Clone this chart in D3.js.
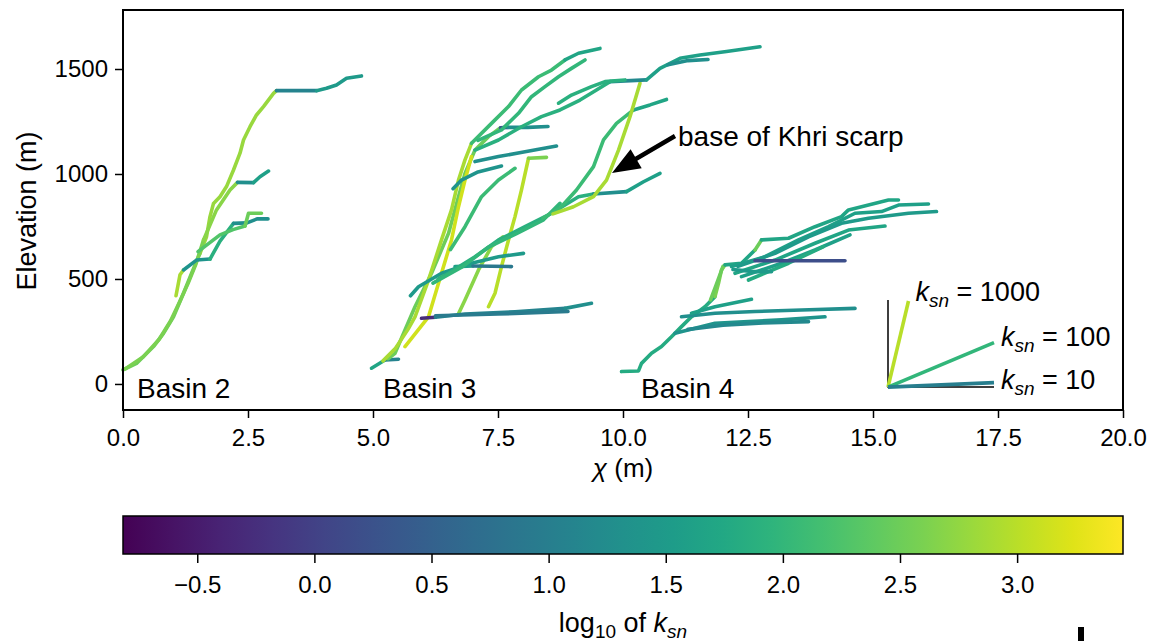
<!DOCTYPE html>
<html>
<head>
<meta charset="utf-8">
<script src="https://cdn.jsdelivr.net/npm/d3@7"></script>
<style>
body { margin: 0; background: #fff; }
text { font-family: "Liberation Sans", Arial, Helvetica, sans-serif; fill: #000; }
</style>
</head>
<body>
<div id="chart"></div>
<script>
// channel segments: k = log10(ksn) colour, pts = [chi (m), elevation (m)]
var basin2 = [
    {k: 2.5, pts: [[0, 67], [0.27, 98], [0.61, 178], [0.81, 241], [1.01, 320], [1.21, 432], [1.37, 527], [1.54, 622]]},
    {k: 2.8, pts: [[1.54, 622], [1.67, 701], [1.74, 797], [1.81, 860], [1.94, 892], [2.07, 940], [2.21, 1019], [2.34, 1099], [2.41, 1162], [2.54, 1225], [2.67, 1281], [2.81, 1321], [3.01, 1384], [3.07, 1397]]},
    {k: 1.1, pts: [[3.07, 1397], [3.87, 1397]]},
    {k: 1.5, pts: [[3.87, 1397], [4.07, 1408], [4.27, 1424], [4.47, 1456], [4.77, 1467]]},
    {k: 2.6, pts: [[0.05, 72], [0.4, 128], [0.72, 212], [0.95, 300], [1.14, 395], [1.3, 478], [1.45, 566], [1.61, 686]]},
    {k: 2.7, pts: [[1.61, 686], [1.87, 829], [2.14, 924], [2.29, 960]]},
    {k: 1.3, pts: [[2.29, 960], [2.61, 959]]},
    {k: 1.6, pts: [[2.61, 959], [2.74, 987], [2.91, 1014]]},
    {k: 2.9, pts: [[1.06, 420], [1.1, 470], [1.14, 520], [1.21, 543]]},
    {k: 1.4, pts: [[1.21, 543], [1.47, 590], [1.74, 595]]},
    {k: 1.9, pts: [[1.74, 595], [1.94, 680], [2.21, 765]]},
    {k: 1.3, pts: [[2.21, 765], [2.48, 767], [2.68, 786], [2.9, 786]]},
    {k: 2.3, pts: [[1.5, 630], [1.94, 710], [2.2, 735], [2.44, 752]]},
    {k: 2.5, pts: [[2.44, 752], [2.51, 813], [2.77, 813]]}
];

var basin3 = [
    {k: 1.7, pts: [[4.97, 75], [5.24, 114]]},
    {k: 1.1, pts: [[5.24, 114], [5.51, 118]]},
    {k: 2.5, pts: [[5.3, 120], [5.44, 146], [5.84, 368], [6.17, 527], [6.51, 717], [6.71, 892], [6.84, 1003], [7.04, 1114], [7.31, 1178], [7.55, 1220]]},
    {k: 2.9, pts: [[5.2, 110], [5.45, 170], [5.7, 260], [5.84, 320], [6.11, 495], [6.37, 686], [6.57, 829], [6.71, 971], [6.84, 1067], [6.97, 1146]]},
    {k: 3.15, pts: [[5.64, 178], [6.11, 320], [6.37, 527], [6.57, 686], [6.71, 844], [6.84, 971], [6.97, 1083]]},
    {k: 0.3, pts: [[7.55, 1220], [7.7, 1222]]},
    {k: 1.3, pts: [[7.7, 1222], [8.1, 1222], [8.5, 1226]]},
    {k: 2.1, pts: [[6.97, 1146], [7.37, 1241], [7.71, 1321], [7.97, 1400], [8.31, 1463], [8.57, 1495], [8.84, 1543]]},
    {k: 1.7, pts: [[8.84, 1543], [9.11, 1575], [9.54, 1598]]},
    {k: 2.0, pts: [[7.1, 1160], [7.57, 1210], [7.91, 1289], [8.17, 1368], [8.44, 1416], [8.71, 1463], [8.97, 1503], [9.24, 1543]]},
    {k: 1.3, pts: [[7.04, 1059], [7.51, 1083], [8.04, 1106], [8.67, 1133]]},
    {k: 3.0, pts: [[7.31, 368], [7.44, 432], [7.57, 559], [7.71, 686], [7.84, 797], [7.97, 924], [8.11, 1075]]},
    {k: 2.6, pts: [[8.11, 1075], [8.47, 1079]]},
    {k: 1.4, pts: [[6.6, 930], [6.77, 971], [7.1, 1010], [7.57, 1038]]},
    {k: 2.1, pts: [[6.55, 640], [6.84, 749], [7.17, 892], [7.51, 971], [7.84, 1027]]},
    {k: 2.7, pts: [[6.7, 330], [6.84, 400], [7.11, 543], [7.37, 654], [7.6, 700]]},
    {k: 1.5, pts: [[5.75, 420], [5.91, 463], [6.37, 527], [6.97, 575], [7.51, 606], [8.01, 622]]},
    {k: 1.6, pts: [[6.64, 559], [7.0, 562]]},
    {k: 0.9, pts: [[7.0, 562], [7.77, 559]]},
    {k: -0.3, pts: [[5.97, 313], [6.25, 318]]},
    {k: 1.1, pts: [[6.25, 318], [6.84, 333], [7.84, 344], [8.84, 360]]},
    {k: 1.3, pts: [[8.84, 360], [9.37, 384]]},
    {k: 0.95, pts: [[6.25, 325], [7.5, 333], [8.9, 345]]},
    {k: 1.9, pts: [[6.3, 500], [6.51, 527], [7.04, 606], [7.51, 686], [8.04, 749], [8.57, 813], [9.11, 892], [9.41, 905]]},
    {k: 1.3, pts: [[9.41, 905], [10.07, 916]]},
    {k: 1.6, pts: [[10.07, 916], [10.41, 963], [10.74, 1003]]},
    {k: 2.0, pts: [[6.2, 480], [6.8, 560], [7.3, 650], [7.9, 720], [8.4, 780], [8.74, 860]]},
    {k: 2.1, pts: [[8.4, 790], [8.74, 837], [9.07, 924], [9.41, 1035], [9.61, 1162], [9.87, 1241], [10.21, 1305]]},
    {k: 1.7, pts: [[10.21, 1305], [10.54, 1329], [10.87, 1355]]},
    {k: 2.9, pts: [[8.6, 810], [9.01, 844], [9.41, 892], [9.67, 971], [9.91, 1114], [10.14, 1273], [10.34, 1432]]},
    {k: 1.9, pts: [[7.04, 1114], [7.51, 1162], [7.97, 1225], [8.37, 1273], [8.74, 1305], [9.14, 1352], [9.47, 1400], [9.74, 1440]]},
    {k: 1.2, pts: [[9.74, 1440], [10.47, 1448]]},
    {k: 1.6, pts: [[10.47, 1448], [10.74, 1503], [11.14, 1551], [11.54, 1567], [12.07, 1583], [12.74, 1606]]},
    {k: 1.9, pts: [[8.71, 1337], [8.97, 1376], [9.37, 1416], [9.64, 1440], [10.04, 1448]]},
    {k: 1.3, pts: [[10.9, 1520], [11.3, 1540], [11.7, 1545]]}
];

var basin4 = [
    {k: 1.8, pts: [[9.97, 59], [10.31, 62], [10.37, 98], [10.57, 146], [10.77, 178], [10.97, 225], [11.17, 273], [11.37, 320], [11.64, 368], [11.84, 416]]},
    {k: 2.6, pts: [[11.84, 416], [11.91, 479], [11.97, 543], [12.04, 567]]},
    {k: 2.5, pts: [[11.75, 400], [11.86, 470], [12.0, 560]]},
    {k: 1.7, pts: [[12.04, 567], [12.37, 575], [12.64, 638]]},
    {k: 2.5, pts: [[12.64, 638], [12.77, 686]]},
    {k: 1.7, pts: [[12.77, 686], [13.31, 694], [13.84, 749], [14.37, 797], [14.51, 829], [14.91, 852], [15.31, 876], [15.51, 876]]},
    {k: 1.6, pts: [[12.17, 559], [12.84, 606], [13.51, 686], [14.11, 749], [14.64, 813], [15.17, 821], [15.51, 852], [16.11, 857]]},
    {k: 1.5, pts: [[12.3, 560], [13.04, 622], [13.71, 701], [14.37, 765], [14.91, 789], [15.71, 813], [16.27, 821]]},
    {k: 1.7, pts: [[12.24, 527], [13.04, 590], [13.84, 670], [14.51, 733], [15.24, 752]]},
    {k: 1.6, pts: [[12.37, 511], [13.17, 575], [13.84, 638], [14.54, 710]]},
    {k: 1.8, pts: [[12.51, 495], [13.31, 575], [14.01, 654]]},
    {k: 0.2, pts: [[12.64, 587], [14.44, 587]]},
    {k: 1.5, pts: [[12.2, 545], [12.61, 535], [12.97, 535]]},
    {k: 1.3, pts: [[11.17, 320], [11.84, 337], [12.64, 345], [13.57, 352], [14.64, 360]]},
    {k: 1.4, pts: [[11.04, 241], [11.84, 289], [12.51, 297], [13.17, 305], [14.04, 320]]},
    {k: 1.2, pts: [[11.3, 260], [12.0, 280], [12.8, 290], [13.71, 297]]},
    {k: 1.6, pts: [[11.37, 337], [11.84, 368], [12.57, 403]]}
];

var xTicks = [0, 2.5, 5, 7.5, 10, 12.5, 15, 17.5, 20];
var yTicks = [0, 500, 1000, 1500];
var cbTicks = [-0.5, 0, 0.5, 1, 1.5, 2, 2.5, 3];
var basinNames = ["Basin 2", "Basin 3", "Basin 4"];
var basinChi = [0.28, 5.2, 10.36];
var legendKsn = [1000, 100, 10];
var legendRun = [0.41, 2.12, 2.12];

// define svg area dimensions
var svgWidth = 1152;
var svgHeight = 641;
var plot = {left: 123, right: 1123, top: 10, bottom: 410};
var bar = {top: 516, bottom: 554};

var svg = d3.select('#chart')
    .append('svg')
    .attr('width', svgWidth)
    .attr('height', svgHeight);

svg.append('rect').attr('width', svgWidth).attr('height', svgHeight).attr('fill', '#fff');

var xScale = d3.scaleLinear().domain([0, 20]).range([plot.left, plot.right]);
var yScale = d3.scaleLinear().domain([-124, 1781]).range([plot.bottom, plot.top]);
var cbScale = d3.scaleLinear().domain([-0.817, 3.452]).range([plot.left, plot.right]);
var colour = d3.scaleSequential(d3.interpolateViridis).domain(cbScale.domain());

var line = d3.line()
    .x(d => xScale(d[0]))
    .y(d => yScale(d[1]));

// channel profiles
var channels = basin2.concat(basin3, basin4);
svg.append('g')
    .selectAll('path')
    .data(channels)
    .enter()
    .append('path')
    .attr('d', d => line(d.pts))
    .attr('fill', 'none')
    .attr('stroke', d => colour(d.k))
    .attr('stroke-width', 3.6)
    .attr('stroke-linejoin', 'round')
    .attr('stroke-linecap', 'round');

// ksn reference lines
var origin = [15.3, -15];
svg.append('path')
    .attr('d', line([[origin[0], origin[1] + 415], origin, [origin[0] + 2.12, origin[1]]]))
    .attr('fill', 'none')
    .attr('stroke', '#000')
    .attr('stroke-width', 1.5);

legendKsn.forEach(function(ks, i) {
    var end = [origin[0] + legendRun[i], origin[1] + ks * legendRun[i]];
    svg.append('path')
        .attr('d', line([origin, end]))
        .attr('stroke', colour(Math.log10(ks)))
        .attr('stroke-width', 3.6)
        .attr('fill', 'none');
    var t = svg.append('text')
        .attr('x', xScale(end[0]) + 7)
        .attr('y', yScale(end[1]) + i * 3)
        .attr('font-size', 27);
    t.append('tspan').attr('font-style', 'italic').text('k');
    t.append('tspan').attr('font-style', 'italic').attr('font-size', 19).attr('dy', 6).text('sn');
    t.append('tspan').attr('dy', -6).text(' = ' + ks);
});

// frame
svg.append('rect')
    .attr('x', plot.left)
    .attr('y', plot.top)
    .attr('width', plot.right - plot.left)
    .attr('height', plot.bottom - plot.top)
    .attr('fill', 'none')
    .attr('stroke', '#000')
    .attr('stroke-width', 2);

// axes
var xAxis = svg.append('g')
    .attr('transform', `translate(0,${plot.bottom})`)
    .call(d3.axisBottom(xScale).tickValues(xTicks).tickFormat(d3.format('.1f')).tickSize(8).tickPadding(11));
var yAxis = svg.append('g')
    .attr('transform', `translate(${plot.left},0)`)
    .call(d3.axisLeft(yScale).tickValues(yTicks).tickFormat(d3.format('d')).tickSize(8).tickPadding(7));

[xAxis, yAxis].forEach(function(ax) {
    ax.select('.domain').remove();
    ax.selectAll('line').attr('stroke-width', 1.5);
    ax.selectAll('text').attr('font-size', 24).attr('font-family', '"Liberation Sans", Arial, sans-serif').attr('fill', '#000');
});

// axis labels
svg.append('text')
    .attr('transform', 'translate(36,211)rotate(-90)')
    .attr('text-anchor', 'middle')
    .attr('font-size', 27)
    .text('Elevation (m)');

var xl = svg.append('text')
    .attr('x', xScale(10))
    .attr('y', 477)
    .attr('text-anchor', 'middle')
    .attr('font-size', 26);
xl.append('tspan').attr('font-style', 'italic').text('χ');
xl.append('tspan').text(' (m)');

// basin labels
svg.selectAll('.basin')
    .data(basinNames)
    .enter()
    .append('text')
    .attr('class', 'basin')
    .attr('x', (d, i) => xScale(basinChi[i]))
    .attr('y', yScale(-67))
    .attr('font-size', 28)
    .text(d => d);

// annotation arrow
var tail = [xScale(11.04), yScale(1181)];
var tip = [xScale(9.78), yScale(1005)];
var ang = Math.atan2(tip[1] - tail[1], tip[0] - tail[0]);
var headLen = 28, headHalf = 11, shaft = 2.2;
var ux = Math.cos(ang), uy = Math.sin(ang);
var bx = tip[0] - ux * headLen, by = tip[1] - uy * headLen;
var arrowPts = [
    [tail[0] - uy * shaft, tail[1] + ux * shaft],
    [bx - uy * shaft, by + ux * shaft],
    [bx - uy * headHalf, by + ux * headHalf],
    tip,
    [bx + uy * headHalf, by - ux * headHalf],
    [bx + uy * shaft, by - ux * shaft],
    [tail[0] + uy * shaft, tail[1] - ux * shaft]
];
svg.append('path')
    .attr('d', 'M' + arrowPts.join('L') + 'Z')
    .attr('fill', '#000');

svg.append('text')
    .attr('x', tail[0] + 3)
    .attr('y', tail[1] + 10)
    .attr('font-size', 28)
    .text('base of Khri scarp');

// colour bar
var grad = svg.append('defs')
    .append('linearGradient')
    .attr('id', 'viridis');
d3.range(0, 1.0001, 0.05).forEach(function(t) {
    grad.append('stop')
        .attr('offset', (t * 100) + '%')
        .attr('stop-color', d3.interpolateViridis(t));
});

svg.append('rect')
    .attr('x', cbScale.range()[0])
    .attr('y', bar.top)
    .attr('width', cbScale.range()[1] - cbScale.range()[0])
    .attr('height', bar.bottom - bar.top)
    .attr('fill', 'url(#viridis)')
    .attr('stroke', '#000')
    .attr('stroke-width', 1.5);

var cbAxis = svg.append('g')
    .attr('transform', `translate(0,${bar.bottom})`)
    .call(d3.axisBottom(cbScale).tickValues(cbTicks).tickFormat(d3.format('.1f')).tickSize(9).tickPadding(13));
cbAxis.select('.domain').remove();
cbAxis.selectAll('line').attr('stroke-width', 1.5);
cbAxis.selectAll('text').attr('font-size', 24).attr('font-family', '"Liberation Sans", Arial, sans-serif').attr('fill', '#000');

var cl = svg.append('text')
    .attr('x', xScale(10))
    .attr('y', 632)
    .attr('text-anchor', 'middle')
    .attr('font-size', 27);
cl.append('tspan').text('log');
cl.append('tspan').attr('font-size', 19).attr('dy', 6).text('10');
cl.append('tspan').attr('dy', -6).text(' of ');
cl.append('tspan').attr('font-style', 'italic').text('k');
cl.append('tspan').attr('font-style', 'italic').attr('font-size', 19).attr('dy', 6).text('sn');

// cut-off mark at the bottom edge
svg.append('rect')
    .attr('x', 1078)
    .attr('y', 627)
    .attr('width', 6)
    .attr('height', 14)
    .attr('fill', '#000');
</script>
</body>
</html>
